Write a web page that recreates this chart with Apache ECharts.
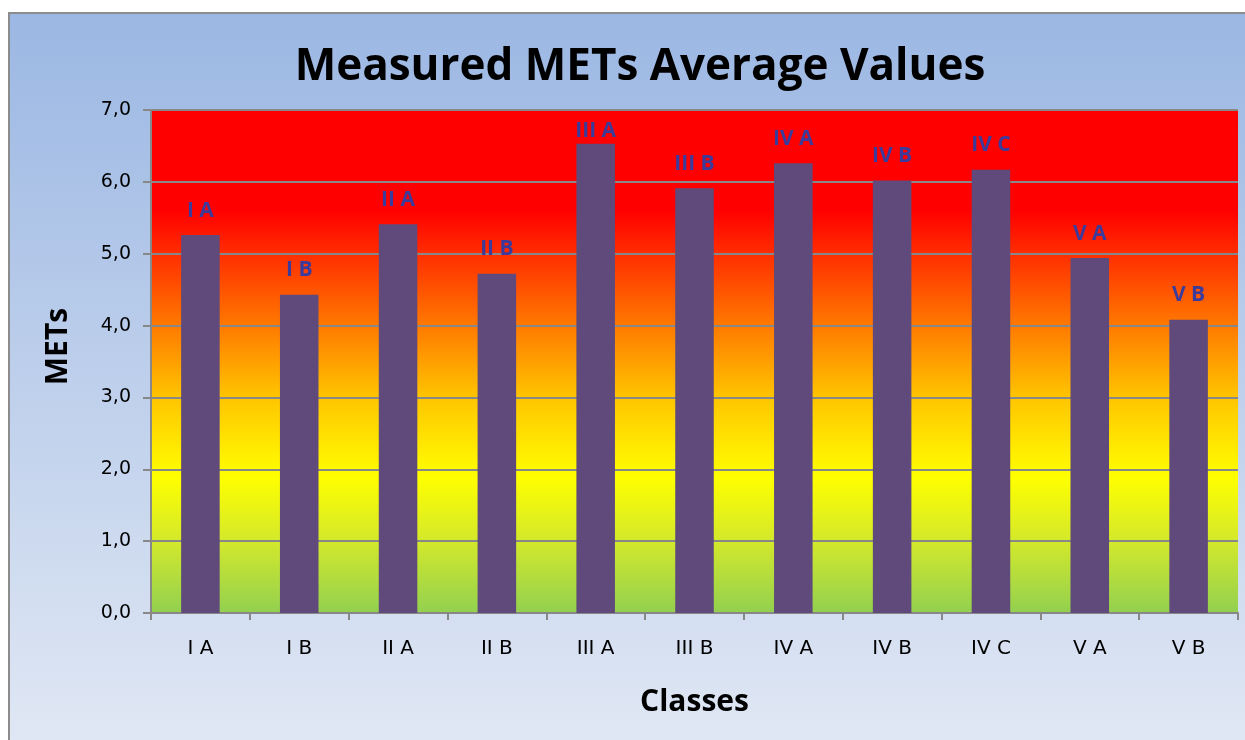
<!DOCTYPE html>
<html>
<head>
<meta charset="utf-8">
<script src="https://cdn.jsdelivr.net/npm/echarts@6/dist/echarts.min.js"></script>
<style>
html,body{margin:0;padding:0;background:#ffffff;}
#chart{width:1245px;height:740px;}
</style>
</head>
<body>
<div id="chart"></div>
<script>
var categories = ['I A', 'I B', 'II A', 'II B', 'III A', 'III B', 'IV A', 'IV B', 'IV C', 'V A', 'V B'];
var metValues = [5.26, 4.43, 5.41, 4.72, 6.53, 5.91, 6.26, 6.02, 6.17, 4.94, 4.08];
var yTicks = { min: 0, max: 7, interval: 1 };

var chart = echarts.init(document.getElementById('chart'), null, { renderer: 'canvas' });

var seriesData = metValues.map(function (v, i) {
  var item = { value: v };
  if (v > 6.4) { item.label = { distance: 2 }; }
  return item;
});

var option = {
  backgroundColor: '#ffffff',
  animation: false,
  graphic: [{
    type: 'rect',
    z: -10,
    shape: { x: 9, y: 13, width: 1260, height: 740 },
    style: {
      fill: {
        type: 'linear', x: 0, y: 0, x2: 0, y2: 1,
        colorStops: [
          { offset: 0, color: '#9bb7e3' },
          { offset: 1, color: '#e1e8f4' }
        ]
      },
      stroke: '#8c8c8c',
      lineWidth: 2
    }
  }],
  title: {
    text: 'Measured METs Average Values',
    left: 635,
    top: 40,
    textAlign: 'center',
    textStyle: {
      fontFamily: 'Open Sans',
      fontWeight: 'bold',
      fontSize: 44,
      color: '#000000'
    }
  },
  grid: {
    left: 151,
    top: 110,
    right: 7,
    bottom: 127,
    show: true,
    borderWidth: 0,
    backgroundColor: {
      type: 'linear', x: 0, y: 0, x2: 0, y2: 1,
      colorStops: [
        { offset: 0, color: '#ff0000' },
        { offset: 0.2, color: '#ff0000' },
        { offset: 0.43, color: '#ff7a00' },
        { offset: 0.57, color: '#ffc400' },
        { offset: 0.73, color: '#ffff00' },
        { offset: 0.86, color: '#d2e82c' },
        { offset: 1, color: '#92d050' }
      ]
    }
  },
  xAxis: {
    type: 'category',
    data: categories,
    name: 'Classes',
    nameLocation: 'middle',
    nameGap: 74,
    nameTextStyle: {
      fontFamily: 'Open Sans',
      fontWeight: 'bold',
      fontSize: 30,
      color: '#000000'
    },
    axisLine: { show: true, lineStyle: { color: '#888888', width: 2 } },
    axisTick: { show: true, length: 7, alignWithLabel: false, lineStyle: { color: '#888888', width: 2 } },
    axisLabel: {
      margin: 26,
      fontFamily: 'DejaVu Sans',
      fontSize: 20,
      color: '#000000'
    }
  },
  yAxis: {
    type: 'value',
    min: yTicks.min,
    max: yTicks.max,
    interval: yTicks.interval,
    name: 'METs',
    nameLocation: 'middle',
    nameGap: 78,
    nameTextStyle: {
      fontFamily: 'Open Sans',
      fontWeight: 'bold',
      fontSize: 30,
      color: '#000000',
      padding: [0, 0, 0, 30]
    },
    axisLine: { show: true, lineStyle: { color: '#888888', width: 2 } },
    axisTick: { show: true, length: 8, inside: false, lineStyle: { color: '#888888', width: 2 } },
    splitLine: { show: true, lineStyle: { color: '#888888', width: 2 } },
    axisLabel: {
      margin: 20,
      fontFamily: 'DejaVu Sans',
      fontSize: 19,
      color: '#000000',
      formatter: function (v) { return v.toFixed(1).replace('.', ','); }
    }
  },
  series: [{
    type: 'bar',
    data: seriesData,
    barWidth: '39%',
    itemStyle: { color: '#604a7b' },
    label: {
      show: true,
      position: 'top',
      distance: 14,
      formatter: function (p) { return p.name; },
      fontFamily: 'Open Sans',
      fontWeight: 'bold',
      fontSize: 21,
      color: '#3b3b9b'
    }
  }]
};

chart.setOption(option);
</script>
</body>
</html>
